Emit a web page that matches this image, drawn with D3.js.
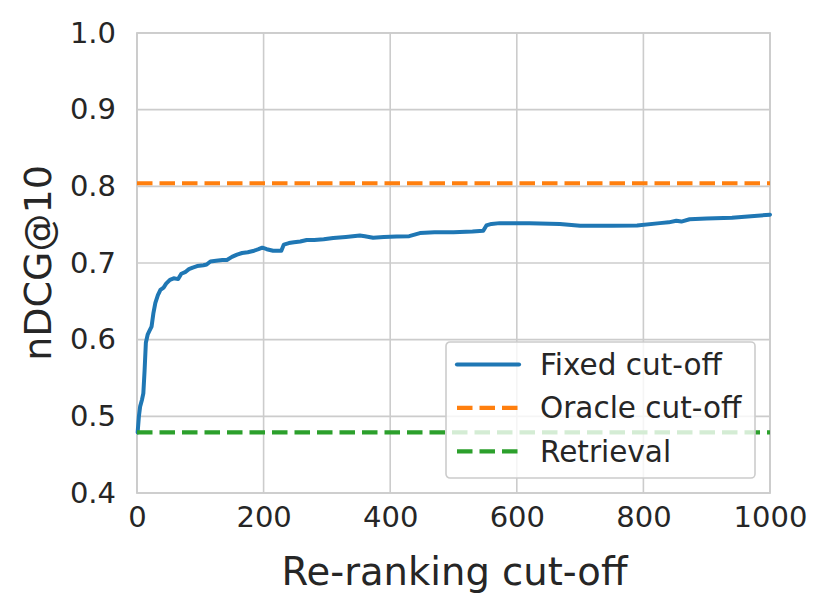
<!doctype html>
<html>
<head>
<meta charset="utf-8">
<style type="text/css">
  body { margin: 0; background: #fff; }
  text { font-family: "DejaVu Sans", sans-serif; fill: #262626; }
</style>
<script src="https://d3js.org/d3.v7.min.js"></script>
</head>
<body>
<svg width="829" height="614"></svg>
<script type="text/javascript">
// fixed cut-off curve
var cutoffs = [1, 3, 5, 8, 10, 12, 14, 17, 20, 23, 26, 29, 33, 37, 42, 46, 52, 58, 65, 70,
  76, 82, 88, 95, 105, 110, 116, 125, 135, 142, 150, 158, 166, 175, 185, 192, 198, 205, 215, 228,
  232, 240, 248, 258, 268, 280, 295, 310, 330, 352, 360, 373, 390, 410, 430, 447, 470, 500, 530, 547,
  552, 560, 573, 620, 668, 700, 750, 790, 826, 840, 852, 860, 873, 900, 940, 970, 1000];
var fixedNdcg = [0.479, 0.500, 0.513, 0.522, 0.530, 0.560, 0.596, 0.607, 0.612, 0.617, 0.635, 0.648, 0.658, 0.665, 0.668, 0.673, 0.678, 0.680, 0.679, 0.686,
  0.688, 0.692, 0.694, 0.696, 0.697, 0.698, 0.702, 0.703, 0.704, 0.704, 0.708, 0.711, 0.713, 0.714, 0.716, 0.718, 0.720, 0.718, 0.716, 0.716,
  0.724, 0.726, 0.727, 0.728, 0.730, 0.730, 0.731, 0.7325, 0.734, 0.736, 0.735, 0.733, 0.734, 0.7345, 0.735, 0.739, 0.740, 0.740, 0.741, 0.742,
  0.749, 0.751, 0.752, 0.752, 0.751, 0.7485, 0.7485, 0.749, 0.752, 0.753, 0.755, 0.754, 0.757, 0.758, 0.759, 0.761, 0.763];
var oracleNdcg = 0.804;
var retrievalNdcg = 0.479;

var xTicks = [0, 200, 400, 600, 800, 1000];
var yTicks = [0.4, 0.5, 0.6, 0.7, 0.8, 0.9, 1.0];
var legendLabels = ["Fixed cut-off", "Oracle cut-off", "Retrieval"];
var colors = ["#1f77b4", "#ff7f0e", "#2ca02c"];

var svg = d3.select("svg"),
    margin = {top: 33, right: 59, bottom: 121, left: 137},
    width = +svg.attr("width") - margin.left - margin.right,
    height = +svg.attr("height") - margin.top - margin.bottom;

var x = d3.scaleLinear().domain([0, 1000]).range([0, width]);
var y = d3.scaleLinear().domain([0.4, 1.0]).range([height, 0]);

var g = svg.append("g").attr("transform", `translate(${margin.left},${margin.top})`);

// grid
g.append("g").selectAll("line").data(xTicks).enter().append("line")
    .attr("x1", (d) => x(d)).attr("x2", (d) => x(d))
    .attr("y1", 0).attr("y2", height)
    .style("stroke", "#cccccc").style("stroke-width", 1.6);
g.append("g").selectAll("line").data(yTicks).enter().append("line")
    .attr("x1", 0).attr("x2", width)
    .attr("y1", (d) => y(d)).attr("y2", (d) => y(d))
    .style("stroke", "#cccccc").style("stroke-width", 1.6);

// axes (labels only, seaborn whitegrid has no tick marks)
var xAxis = g.append("g").attr("transform", `translate(0,${height})`)
    .call(d3.axisBottom(x).tickValues(xTicks).tickSize(0).tickPadding(13).tickFormat(d3.format("d")));
var yAxis = g.append("g")
    .call(d3.axisLeft(y).tickValues(yTicks).tickSize(0).tickPadding(21).tickFormat(d3.format(".1f")));
[xAxis, yAxis].forEach(function(a) {
    a.select(".domain").remove();
    a.selectAll("text").style("font-size", "29px").style("font-family", "DejaVu Sans").attr("fill", "#262626");
});
xAxis.selectAll("text").attr("dy", "0.71em");

// frame
g.append("rect").attr("width", width).attr("height", height)
    .style("fill", "none").style("stroke", "#cccccc").style("stroke-width", 1.8);

// lines
var line = d3.line().x((d) => x(d[0])).y((d) => y(d[1]));
g.append("path")
    .datum(cutoffs.map((c, i) => [c, fixedNdcg[i]]))
    .attr("d", line)
    .style("fill", "none").style("stroke", colors[0]).style("stroke-width", 4)
    .style("stroke-linejoin", "round").style("stroke-linecap", "round");

[oracleNdcg, retrievalNdcg].forEach(function(v, i) {
    g.append("line")
        .attr("x1", x(0)).attr("x2", x(1000))
        .attr("y1", y(v)).attr("y2", y(v))
        .style("stroke", colors[i + 1]).style("stroke-width", 4.2)
        .style("stroke-dasharray", "15.5 7");
});

// legend
var legend = svg.append("g").attr("transform", "translate(446,342)");
legend.append("rect")
    .attr("width", 309).attr("height", 136).attr("rx", 4)
    .style("fill", "#fff").style("fill-opacity", 0.8)
    .style("stroke", "#cccccc").style("stroke-width", 1.6);
var items = legend.selectAll("g.item").data(legendLabels).enter()
    .append("g").attr("class", "item")
    .attr("transform", (d, i) => `translate(0,${22.5 + i * 43.4})`);
items.append("line")
    .attr("x1", 11).attr("x2", 73)
    .style("stroke", (d, i) => colors[i]).style("stroke-width", 4.2)
    .style("stroke-dasharray", (d, i) => i === 0 ? null : "15.5 7")
    .style("stroke-linecap", (d, i) => i === 0 ? "round" : "butt");
items.append("text")
    .attr("x", 94).attr("dy", "0.35em")
    .style("font-size", "29.5px")
    .text((d) => d);

// axis titles
svg.append("text")
    .attr("x", margin.left + width / 2 + 1).attr("y", 585)
    .style("text-anchor", "middle").style("font-size", "38.5px")
    .text("Re-ranking cut-off");
svg.append("text")
    .attr("transform", `translate(51,${margin.top + height / 2}) rotate(-90)`)
    .style("text-anchor", "middle").style("font-size", "38px")
    .text("nDCG@10");
</script>
</body>
</html>
